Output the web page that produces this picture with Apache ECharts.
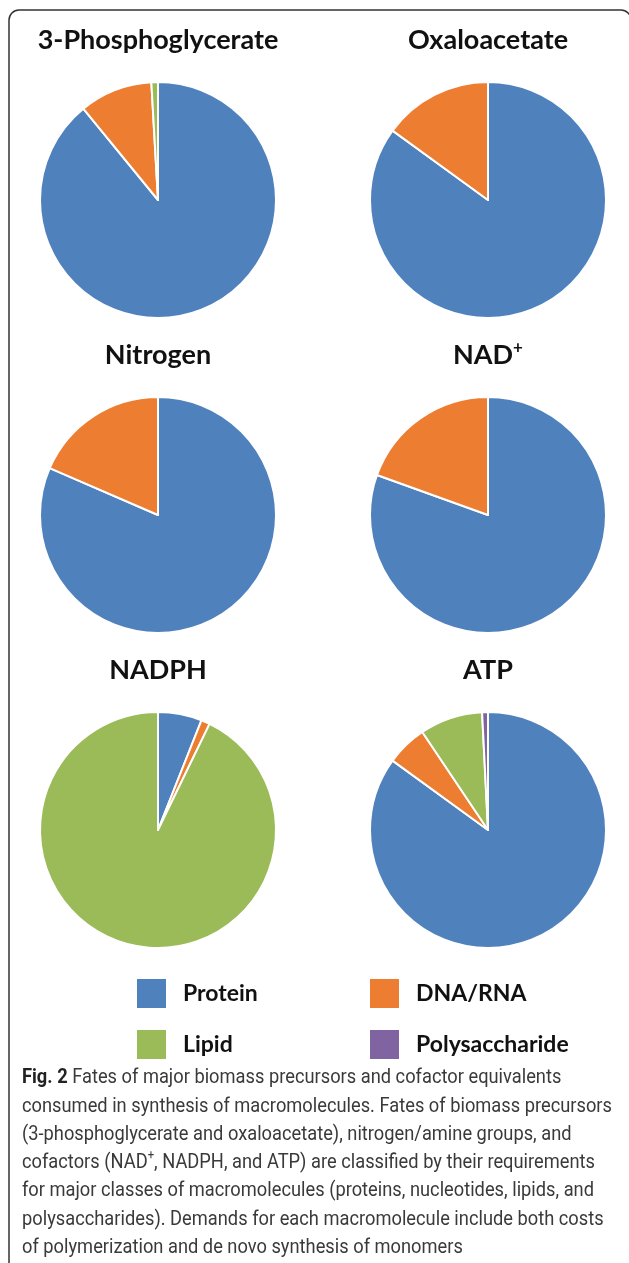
<!DOCTYPE html>
<html>
<head>
<meta charset="utf-8">
<script src="https://cdn.jsdelivr.net/npm/echarts@6/dist/echarts.min.js"></script>
<style>
  html, body { margin: 0; padding: 0; background: #fff; }
  #chart { width: 629px; height: 1263px; }
</style>
</head>
<body>
<div id="chart"></div>
<script>
// categories (legend order = clockwise order from 12 o'clock)
const categories = ['Protein', 'DNA/RNA', 'Lipid', 'Polysaccharide']
const colors = ['#4F81BD', '#ED7D31', '#9BBB59', '#8064A2']

// share of each macromolecule class, %
const phosphoglycerate = [89, 10, 0.9, 0]
const oxaloacetate = [85, 15, 0, 0]
const nitrogen = [81.5, 18.5, 0, 0]
const nadPlus = [80.5, 19.5, 0, 0]
const nadph = [6, 1.2, 92.8, 0]
const atp = [85, 5.6, 8.6, 0.8]

const pieNames = ['3-Phosphoglycerate', 'Oxaloacetate', 'Nitrogen', 'NAD+', 'NADPH', 'ATP']
const pieValues = [phosphoglycerate, oxaloacetate, nitrogen, nadPlus, nadph, atp]

const captionLines = [
  '{b|Fig. 2} Fates of major biomass precursors and cofactor equivalents',
  'consumed in synthesis of macromolecules. Fates of biomass precursors',
  '(3-phosphoglycerate and oxaloacetate), nitrogen/amine groups, and',
  'cofactors (NAD{sup|+}, NADPH, and ATP) are classified by their requirements',
  'for major classes of macromolecules (proteins, nucleotides, lipids, and',
  'polysaccharides). Demands for each macromolecule include both costs',
  'of polymerization and de novo synthesis of monomers'
]

const colX = [158, 488]
const rowY = [200, 515, 830]
const titleFont = 'Lato, "Open Sans", sans-serif'
const capFont = 'Roboto, "Noto Sans", sans-serif'

// squeeze the caption so line 2 spans ~590px like the original
const measure = document.createElement('canvas').getContext('2d')
measure.font = '21px ' + capFont
const capScale = 590 / measure.measureText(captionLines[1]).width

const mChart = echarts.init(document.getElementById('chart'))

const series = pieNames.map((name, i) => ({
  name: name,
  type: 'pie',
  center: [colX[i % 2], rowY[Math.floor(i / 2)]],
  radius: 118,
  startAngle: 90,
  clockwise: true,
  silent: true,
  label: { show: false },
  labelLine: { show: false },
  itemStyle: { borderColor: '#fff', borderWidth: 2 },
  data: categories.map((c, k) => ({
    name: c,
    value: pieValues[i][k],
    itemStyle: { color: colors[k] }
  }))
}))

const titles = pieNames.map((name, i) => ({
  type: 'text',
  x: colX[i % 2],
  y: rowY[Math.floor(i / 2)] - 160,
  style: {
    text: name === 'NAD+' ? '{n|NAD}{s|+}' : name,
    x: 0,
    y: 0,
    align: 'center',
    verticalAlign: 'middle',
    font: 'bold 27px ' + titleFont,
    fill: '#111',
    rich: {
      n: { fontSize: 27, fontWeight: 'bold', fontFamily: titleFont, fill: '#111', lineHeight: 32 },
      s: { fontSize: 17, fontWeight: 'bold', fontFamily: titleFont, fill: '#111', verticalAlign: 'top', lineHeight: 30 }
    }
  }
}))

const caption = captionLines.map((line, i) => ({
  type: 'text',
  x: 22,
  y: 1078 + i * 28.3,
  scaleX: capScale,
  style: {
    text: line,
    x: 0,
    y: 0,
    verticalAlign: 'middle',
    font: '21px ' + capFont,
    fill: '#3a3a3a',
    rich: {
      b: { fontSize: 21, fontWeight: 'bold', fontFamily: capFont, fill: '#222' },
      sup: { fontSize: 13, fontFamily: capFont, fill: '#3a3a3a', verticalAlign: 'top', lineHeight: 28 }
    }
  }
}))

const legendPos = [[135, 977], [368, 977], [135, 1028], [368, 1028]]
const legends = categories.map((c, k) => ({
  data: [c],
  left: legendPos[k][0],
  top: legendPos[k][1],
  padding: 0,
  icon: 'rect',
  itemWidth: 31,
  itemHeight: 31,
  selectedMode: false,
  textStyle: {
    fontFamily: titleFont,
    fontWeight: 'bold',
    fontSize: 23,
    color: '#111',
    padding: [0, 0, 0, 11]
  }
}))

const options = {
  backgroundColor: '#fff',
  animation: false,
  legend: legends,
  series: series,
  graphic: [
    {
      type: 'rect',
      shape: { x: 9, y: 10, width: 622, height: 1262, r: 10 },
      style: { fill: 'none', stroke: '#333', lineWidth: 1.5 }
    },
    ...titles,
    ...caption
  ]
}
mChart.setOption(options)
</script>
</body>
</html>
